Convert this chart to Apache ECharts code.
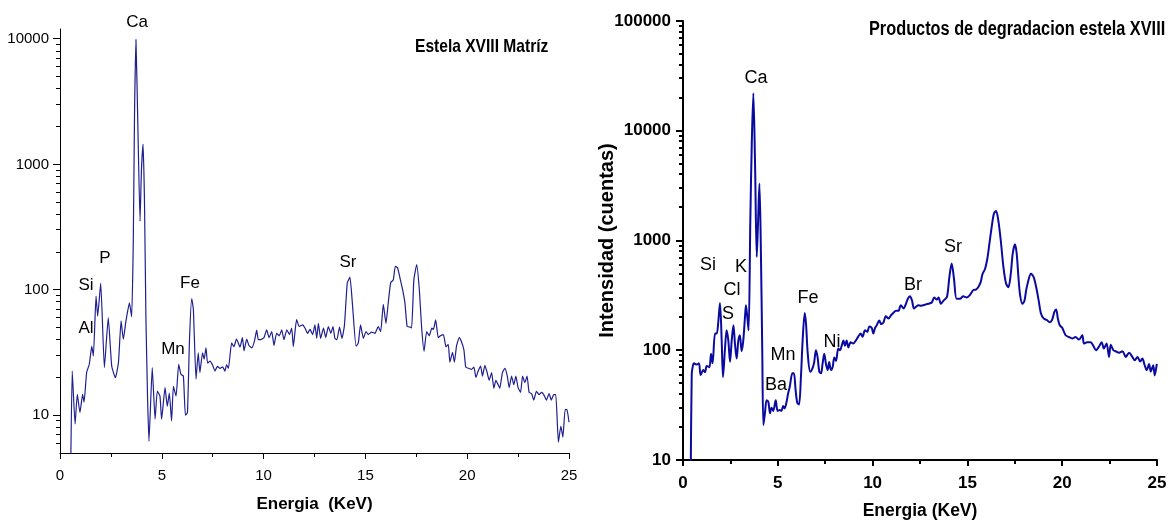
<!DOCTYPE html>
<html>
<head>
<meta charset="utf-8">
<script src="https://cdn.jsdelivr.net/npm/echarts@6.0.0/dist/echarts.min.js"></script>
<style>
  html, body { margin: 0; padding: 0; background: #fff; }
  #chart { width: 1172px; height: 525px; }
</style>
</head>
<body>
<div id="chart"></div>
<script>
// Estela XVIII matriz spectrum (left panel)
const energyMatrix = [0.52, 0.6, 0.74, 0.85, 0.98, 1.11, 1.18, 1.31, 1.44, 1.56, 1.64, 1.77, 1.85, 2.0, 2.18, 2.37, 2.54, 2.72, 2.87, 3.0,
  3.11, 3.24, 3.41, 3.52, 3.6, 3.66, 3.73, 3.82, 3.93, 4.0, 4.08, 4.15, 4.22, 4.3, 4.37, 4.53, 4.67, 4.78, 4.91, 4.99,
  5.16, 5.27, 5.37, 5.48, 5.57, 5.7, 5.83, 5.94, 6.06, 6.16, 6.26, 6.36, 6.47, 6.55, 6.68, 6.79, 6.87, 7.0, 7.08, 7.17,
  7.25, 7.37, 7.5, 7.61, 7.73, 7.86, 7.99, 8.1, 8.18, 8.27, 8.43, 8.54, 8.67, 8.84, 8.96, 9.04, 9.17, 9.28, 9.42, 9.55,
  9.66, 9.74, 9.86, 10.02, 10.15, 10.27, 10.4, 10.51, 10.64, 10.77, 10.89, 11.0, 11.14, 11.27, 11.38, 11.46, 11.62, 11.75, 11.92, 12.03,
  12.16, 12.28, 12.41, 12.52, 12.61, 12.69, 12.8, 12.94, 13.05, 13.18, 13.3, 13.41, 13.5, 13.6, 13.73, 13.85, 13.97, 14.11, 14.24, 14.37,
  14.54, 14.65, 14.76, 14.9, 15.03, 15.14, 15.3, 15.47, 15.63, 15.75, 15.88, 16.01, 16.13, 16.24, 16.37, 16.47, 16.58, 16.7, 16.83, 16.94,
  17.05, 17.19, 17.27, 17.38, 17.52, 17.65, 17.76, 17.88, 18.01, 18.14, 18.26, 18.34, 18.45, 18.58, 18.69, 18.83, 18.96, 19.07, 19.15, 19.28,
  19.37, 19.48, 19.61, 19.72, 19.84, 19.93, 20.1, 20.21, 20.33, 20.43, 20.54, 20.66, 20.75, 20.87, 20.98, 21.08, 21.2, 21.31, 21.41, 21.52,
  21.6, 21.73, 21.85, 21.97, 22.06, 22.18, 22.29, 22.39, 22.5, 22.62, 22.72, 22.83, 22.94, 23.04, 23.16, 23.27, 23.4, 23.53, 23.65, 23.76,
  23.89, 24.02, 24.13, 24.25, 24.35, 24.48, 24.6, 24.7, 24.81, 24.9, 25.0]
const countsMatrix = [3, 22.5, 8.5, 14.7, 10.5, 14.7, 12.7, 22, 25.5, 35.5, 29.7, 89, 61.6, 113, 24, 60, 24.7, 19.9, 26.2, 56.5,
  40.3, 56.5, 78.6, 61, 250, 2500, 9900, 2200, 352, 900, 1450, 500, 60, 14, 6.2, 24, 9.3, 15.6, 14.2, 9.3,
  16.6, 11.8, 15, 9, 17, 14.2, 25.5, 21.2, 20.5, 10, 10.5, 40, 85, 70, 19.4, 31.5, 21.9, 31.5, 28, 34.4,
  26, 27, 25, 22.5, 24.5, 23.6, 24.3, 22.5, 25.3, 23.6, 37.8, 35.2, 40.5, 35, 41.6, 32.6, 40.5, 36, 34.5, 39,
  47.7, 40, 40, 41.6, 48, 41.6, 46.5, 36, 45, 43, 48, 40, 48, 44, 49.6, 35.2, 57.8, 51, 52.5, 49.6,
  45, 48.3, 44, 52.5, 41, 54, 41, 49.6, 41.6, 51, 45, 51, 41, 40, 50.5, 41, 52, 113.8, 126, 74.4,
  35.5, 37.5, 52.5, 41, 46.5, 44, 46, 45, 51, 46.5, 76.5, 54, 81, 113.8, 120, 154, 150, 124, 100, 79,
  51, 50.5, 49.6, 120, 159, 100, 50.5, 32.4, 46.5, 43, 49.6, 48.3, 57.5, 41.6, 43, 44, 35, 36.7, 26.5, 31.7,
  26.5, 36, 41.6, 38.5, 33, 24.2, 23.6, 23.2, 24.2, 20, 22.5, 24.7, 20.5, 25, 21.9, 19, 21.9, 16.4, 19, 17.5,
  16.4, 21.9, 23.6, 20.5, 16.6, 20.5, 17.5, 20.5, 16.6, 15.2, 20.5, 18.2, 20.5, 15.2, 14.9, 13.2, 15.5, 14.6, 15.2, 14.6,
  13.2, 14.9, 13.2, 14.6, 14.6, 6.1, 8.2, 6.7, 11.1, 11.1, 8.8]

// degradation products spectrum (right panel)
const energyProducts = [0.4, 0.46, 0.52, 0.58, 0.72, 0.84, 0.93, 1.07, 1.16, 1.25, 1.39, 1.48, 1.56, 1.69, 1.78, 1.86, 1.95, 2.04, 2.11, 2.22,
  2.3, 2.39, 2.48, 2.57, 2.66, 2.74, 2.83, 2.92, 3.0, 3.09, 3.18, 3.27, 3.32, 3.39, 3.46, 3.55, 3.63, 3.71, 3.8, 3.89,
  3.96, 4.03, 4.1, 4.18, 4.24, 4.32, 4.41, 4.5, 4.59, 4.67, 4.76, 4.89, 4.99, 5.1, 5.19, 5.28, 5.36, 5.45, 5.54, 5.63,
  5.77, 5.85, 5.94, 6.03, 6.12, 6.22, 6.31, 6.42, 6.49, 6.58, 6.71, 6.85, 6.92, 7.01, 7.1, 7.19, 7.28, 7.36, 7.45, 7.54,
  7.63, 7.71, 7.8, 7.89, 7.98, 8.07, 8.19, 8.28, 8.37, 8.46, 8.54, 8.63, 8.72, 8.84, 8.98, 9.12, 9.24, 9.37, 9.47, 9.6,
  9.72, 9.83, 9.95, 10.04, 10.13, 10.22, 10.35, 10.45, 10.57, 10.7, 10.84, 10.96, 11.1, 11.24, 11.36, 11.49, 11.63, 11.76, 11.86, 11.97,
  12.08, 12.18, 12.3, 12.42, 12.55, 12.68, 12.81, 12.94, 13.12, 13.25, 13.39, 13.48, 13.6, 13.74, 13.92, 14.05, 14.17, 14.29, 14.43, 14.61,
  14.78, 14.96, 15.13, 15.31, 15.45, 15.57, 15.7, 15.8, 15.93, 16.05, 16.16, 16.28, 16.4, 16.51, 16.63, 16.76, 16.9, 17.04, 17.16, 17.28,
  17.39, 17.51, 17.6, 17.69, 17.78, 17.9, 18.01, 18.1, 18.22, 18.35, 18.49, 18.63, 18.76, 18.88, 19.02, 19.2, 19.34, 19.46, 19.59, 19.68,
  19.77, 19.87, 20.0, 20.18, 20.35, 20.53, 20.7, 20.88, 21.06, 21.15, 21.32, 21.5, 21.64, 21.78, 21.94, 22.08, 22.2, 22.34, 22.47, 22.56,
  22.7, 22.82, 23.0, 23.18, 23.35, 23.53, 23.7, 23.83, 23.97, 24.11, 24.23, 24.35, 24.46, 24.58, 24.67, 24.8, 24.88, 24.99]
const countsProducts = [5, 60, 72, 76, 74, 76, 59.4, 66, 63, 72, 70, 93, 76, 142, 142, 180, 270, 123, 57, 107,
  152, 123, 78.4, 123, 169, 115, 84, 123, 137, 98, 123, 202, 257, 202, 152, 1500, 8000, 22000, 5000, 708,
  1500, 3300, 1000, 100, 20.8, 26.6, 35, 34, 26.6, 30, 28, 35, 28, 28.5, 28, 31, 29.5, 33, 40, 46.5,
  61.6, 61.6, 43, 33, 32, 57, 123, 219, 173, 93, 63.6, 70, 78, 100, 86, 63.6, 61.6, 75, 93, 75,
  66, 78, 66, 70, 86, 80, 104, 100, 110, 123, 110, 123, 106, 118, 115, 123, 133, 142, 133, 152,
  147, 165, 160, 142, 160, 169, 187, 173, 179, 204, 195, 207, 220, 229, 229, 257, 240, 265, 295, 310,
  283, 240, 250, 257, 255, 257, 262, 265, 272, 302, 290, 302, 265, 283, 305, 466, 617, 453, 295, 295,
  310, 302, 318, 353, 357, 375, 418, 497, 550, 682, 935, 1325, 1760, 1855, 1525, 1000, 573, 405, 375, 483,
  759, 923, 759, 466, 318, 265, 283, 353, 435, 497, 466, 375, 283, 216, 195, 188, 180, 188, 224, 235,
  195, 169, 160, 137, 132, 128, 132, 125, 137, 115, 118, 118, 110, 100, 108, 118, 104, 115, 87, 112,
  100, 98, 95, 98, 87, 95, 87, 81, 87, 79, 84, 73, 66, 75, 64, 73, 59, 75]

const majorLeft = [10, 100, 1000, 10000]
const minorLeft = [6, 7, 8, 9, 20, 30, 40, 50, 60, 70, 80, 90, 200, 300, 400, 500, 600, 700, 800, 900,
  2000, 3000, 4000, 5000, 6000, 7000, 8000, 9000]
const majorRight = [10, 100, 1000, 10000, 100000]
const minorRight = [20, 30, 40, 50, 60, 70, 80, 90, 200, 300, 400, 500, 600, 700, 800, 900,
  2000, 3000, 4000, 5000, 6000, 7000, 8000, 9000, 20000, 30000, 40000, 50000, 60000, 70000, 80000, 90000]

const peaksLeft = [['Ca', 137, 22], ['P', 105, 258], ['Si', 86, 285], ['Al', 86, 328], ['Fe', 190, 283], ['Mn', 173, 349], ['Sr', 348, 262]]
const peaksRight = [['Ca', 756, 78], ['Si', 708, 265], ['K', 741, 267], ['Cl', 732, 290], ['S', 728, 314], ['Fe', 808, 298],
  ['Mn', 783, 355], ['Ba', 776, 385], ['Ni', 832, 342], ['Br', 913, 285], ['Sr', 953, 247]]

const FONT = "'Liberation Sans', Arial, sans-serif"
const zip = (xs, ys) => xs.map((x, i) => [x, ys[i]])

const chart = echarts.init(document.getElementById('chart'))

const xAxisFor = (gridIndex, bold, lineWidth) => ({
  type: 'value',
  gridIndex,
  min: 0,
  max: 25,
  interval: 5,
  name: bold ? 'Energia (KeV)' : 'Energia  (KeV)',
  nameLocation: 'middle',
  nameGap: bold ? 42 : 43,
  nameMoveOverlap: false,
  nameTextStyle: { fontFamily: FONT, fontWeight: 'bold', fontSize: bold ? 17.5 : 17, color: '#000' },
  axisLine: { lineStyle: { color: '#000', width: lineWidth } },
  axisTick: { length: 6, lineStyle: { color: '#000', width: lineWidth } },
  minorTick: { show: true, splitNumber: 2, length: 4, lineStyle: { color: '#000', width: lineWidth } },
  splitLine: { show: false },
  axisLabel: {
    margin: 15,
    fontFamily: FONT,
    fontSize: bold ? 17 : 15,
    fontWeight: bold ? 'bold' : 'normal',
    color: '#000'
  }
})

const yAxisFor = (gridIndex, min, max, major, bold, lineWidth, name) => ({
  type: 'log',
  gridIndex,
  position: 'left',
  min,
  max,
  name: name || '',
  nameLocation: 'middle',
  nameGap: 66,
  nameMoveOverlap: false,
  nameTextStyle: { fontFamily: FONT, fontWeight: 'bold', fontSize: 20, color: '#000' },
  axisLine: { show: true, lineStyle: { color: '#000', width: lineWidth } },
  axisTick: { show: false },
  axisLabel: {
    customValues: major,
    formatter: v => String(Math.round(v)),
    margin: bold ? 12 : 11,
    fontFamily: FONT,
    fontSize: bold ? 17 : 15,
    fontWeight: bold ? 'bold' : 'normal',
    color: '#000'
  },
  splitLine: { show: false }
})

const textGraphic = (items, size) => items.map(([text, x, y]) => ({
  type: 'text',
  x,
  y,
  style: { text, fontFamily: FONT, fontSize: size, fill: '#000', align: 'center', verticalAlign: 'middle' }
}))

chart.setOption({
  backgroundColor: '#fff',
  animation: false,
  grid: [
    { left: 60, top: 29, width: 509, height: 424 },
    { left: 683, top: 21, width: 474, height: 439 }
  ],
  xAxis: [xAxisFor(0, false, 1), xAxisFor(1, true, 2)],
  yAxis: [
    yAxisFor(0, 5, 12000, majorLeft, false, 1),
    yAxisFor(1, 10, 100000, majorRight, true, 2, 'Intensidad (cuentas)')
  ],
  series: [
    {
      type: 'line',
      xAxisIndex: 0,
      yAxisIndex: 0,
      data: zip(energyMatrix, countsMatrix),
      showSymbol: false,
      lineStyle: { color: '#1f1f8f', width: 1.2 },
      smooth: 0.15
    },
    {
      type: 'line',
      xAxisIndex: 1,
      yAxisIndex: 1,
      data: zip(energyProducts, countsProducts),
      showSymbol: false,
      lineStyle: { color: '#0a0aa0', width: 2 },
      smooth: 0.3
    }
  ]
})

// pixel position of (energy, counts) through the chart's own axes;
// falls back to the axis objects if the public converter gives nothing usable
const toPixel = (index, energy, counts) => {
  let x = chart.convertToPixel({ xAxisIndex: index }, energy)
  let y = chart.convertToPixel({ yAxisIndex: index }, counts)
  if (Array.isArray(x)) x = x[0]
  if (Array.isArray(y)) y = y[1]
  if (!isFinite(x) || !isFinite(y)) {
    const model = chart.getModel()
    const xa = model.getComponent('xAxis', index).axis
    const ya = model.getComponent('yAxis', index).axis
    x = xa.toGlobalCoord(xa.dataToCoord(energy))
    y = ya.toGlobalCoord(ya.dataToCoord(counts))
  }
  return [x, y]
}

// log-axis ticks: decades long, 2..9 short
const tickMarks = (index, values, len, width) => values.map(v => {
  const [px, py] = toPixel(index, 0, v)
  const x = Math.round(px)
  const y = width % 2 ? Math.floor(py) + 0.5 : Math.round(py)
  return {
    type: 'line',
    silent: true,
    z: 100,
    shape: { x1: x - len, y1: y, x2: x, y2: y },
    style: { stroke: '#000', lineWidth: width }
  }
})

chart.setOption({
  graphic: [
    ...tickMarks(0, majorLeft, 7, 1),
    ...tickMarks(0, minorLeft, 4, 1),
    ...tickMarks(1, majorRight, 7, 2),
    ...tickMarks(1, minorRight, 4, 2),
    {
      type: 'text',
      x: 415,
      y: 47,
      scaleX: 0.82,
      style: { text: 'Estela XVIII Matríz', fontFamily: FONT, fontWeight: 'bold', fontSize: 19, fill: '#000', align: 'left', verticalAlign: 'middle' }
    },
    {
      type: 'text',
      x: 869,
      y: 29,
      scaleX: 0.815,
      style: { text: 'Productos de degradacion estela XVIII', fontFamily: FONT, fontWeight: 'bold', fontSize: 20, fill: '#000', align: 'left', verticalAlign: 'middle' }
    },
    ...textGraphic(peaksLeft, 17),
    ...textGraphic(peaksRight, 18)
  ]
})
</script>
</body>
</html>
